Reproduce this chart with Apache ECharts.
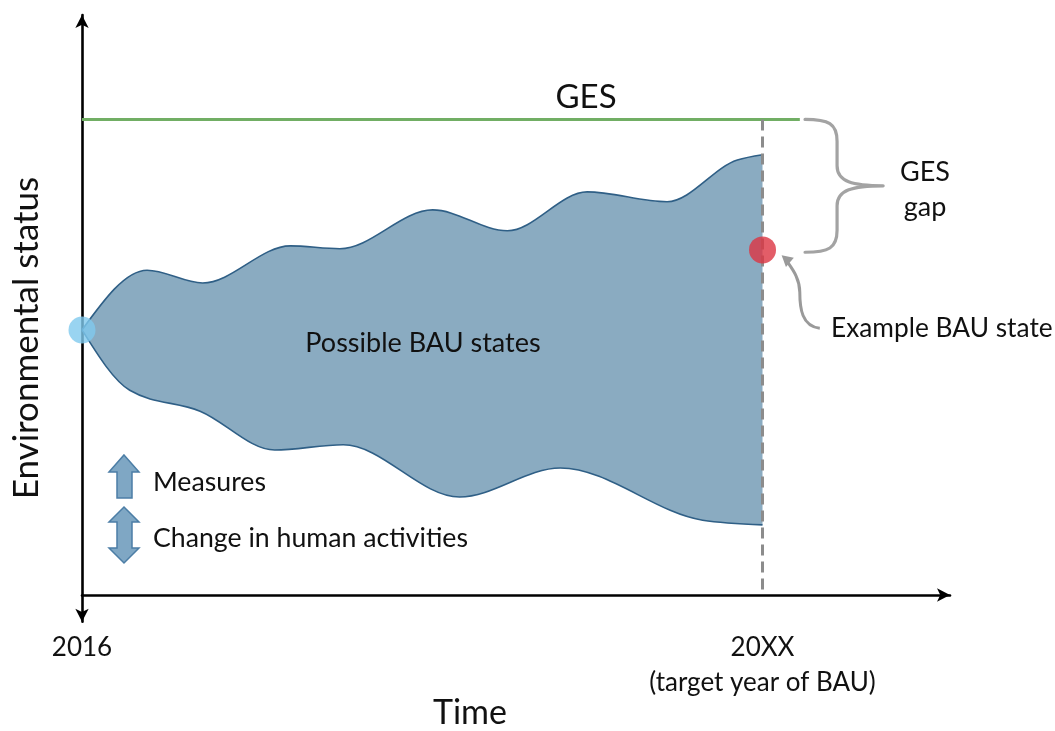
<!DOCTYPE html>
<html>
<head>
<meta charset="utf-8">
<script src="https://cdn.jsdelivr.net/npm/echarts@6/dist/echarts.min.js"></script>
<style>html,body{margin:0;padding:0;background:#fff;}#chart{width:1055px;height:731px;}</style>
</head>
<body>
<div id="chart"></div>
<script>
// ---- data (abstract units: time 0..100, status 0..100) ----
const upperTime = [0, 7.5, 13.9, 24.0, 29.7, 40.4, 49.0, 58.2, 67.4, 75.5, 78.4];
const upperBAU  = [45.7, 56.0, 53.8, 60.2, 59.7, 66.4, 62.8, 69.5, 67.8, 75.0, 75.9];
const lowerTime = [0, 5.5, 13.6, 22.2, 30.1, 43.5, 55.1, 71.5, 78.4];
const lowerBAU  = [45.7, 35.3, 31.7, 25.0, 25.9, 16.9, 21.9, 12.9, 12.1];
const gesLevel = 82;
const gesLineEnd = 82.7;
const startYear = 0;
const targetYear = 78.4;
const startState = 45.7;
const exampleState = 59.5;
const braceX = [83.3, 92.3];
const braceY = [gesLevel, 59.1];
const calloutFrom = [85.0, 46.0];
const calloutTo = [80.6, 58.6];
const tickLabels = ['2016', '20XX\n(target year of BAU)'];

const FONT = 'Lato';
const chart = echarts.init(document.getElementById('chart'));

// monotone-x cubic (Steffen) through pixel points with increasing x; returns bezier segments
function monoSegs(pts) {
  const n = pts.length;
  const m = new Array(n);
  const sign = v => (v > 0 ? 1 : v < 0 ? -1 : 0);
  for (let i = 1; i < n - 1; i++) {
    const h0 = pts[i][0] - pts[i - 1][0], h1 = pts[i + 1][0] - pts[i][0];
    const s0 = (pts[i][1] - pts[i - 1][1]) / h0, s1 = (pts[i + 1][1] - pts[i][1]) / h1;
    const p = (s0 * h1 + s1 * h0) / (h0 + h1);
    m[i] = (sign(s0) + sign(s1)) * Math.min(Math.abs(s0), Math.abs(s1), 0.5 * Math.abs(p)) || 0;
  }
  const hA = pts[1][0] - pts[0][0], hB = pts[n - 1][0] - pts[n - 2][0];
  m[0] = (3 * (pts[1][1] - pts[0][1]) / hA - m[1]) / 2;
  m[n - 1] = (3 * (pts[n - 1][1] - pts[n - 2][1]) / hB - m[n - 2]) / 2;
  const segs = [];
  for (let i = 0; i < n - 1; i++) {
    const h = (pts[i + 1][0] - pts[i][0]) / 3;
    segs.push({
      a: pts[i],
      c1: [pts[i][0] + h, pts[i][1] + m[i] * h],
      c2: [pts[i + 1][0] - h, pts[i + 1][1] - m[i + 1] * h],
      b: pts[i + 1]
    });
  }
  return segs;
}
const segPath = segs => segs.map(s => ['C', s.c1[0], s.c1[1], s.c2[0], s.c2[1], s.b[0], s.b[1]].join(' ')).join(' ');
const segPathRev = segs => segs.slice().reverse().map(s => ['C', s.c2[0], s.c2[1], s.c1[0], s.c1[1], s.a[0], s.a[1]].join(' ')).join(' ');

function bandRender(params, api) {
  const up = upperTime.map((t, i) => api.coord([t, upperBAU[i]]));
  const lo = lowerTime.map((t, i) => api.coord([t, lowerBAU[i]]));
  const su = monoSegs(up), sl = monoSegs(lo);
  const last = lo[lo.length - 1];
  const fillPath = ['M', up[0][0], up[0][1], segPath(su), 'L', last[0], last[1], segPathRev(sl), 'Z'].join(' ');
  const upPath = ['M', up[0][0], up[0][1], segPath(su)].join(' ');
  const loPath = ['M', lo[0][0], lo[0][1], segPath(sl)].join(' ');
  return {
    type: 'group',
    children: [
      { type: 'path', shape: { pathData: fillPath }, style: { fill: '#8aabc1', stroke: null } },
      { type: 'path', shape: { pathData: upPath }, style: { fill: null, stroke: '#2f5f86', lineWidth: 1.6 } },
      { type: 'path', shape: { pathData: loPath }, style: { fill: null, stroke: '#2f5f86', lineWidth: 1.6 } }
    ]
  };
}

function braceRender(params, api) {
  const x0 = api.value(0), x1 = api.value(1), yT = api.value(2), yB = api.value(3);
  const pT = api.coord([x0, yT]);
  const pB = api.coord([x0, yB]);
  const tip = api.coord([x1, (yT + yB) / 2]);
  const W = tip[0] - pT[0];
  const xm = pT[0] + 0.41 * W;
  const ym = tip[1];
  const d = [
    'M', pT[0], pT[1],
    'C', pT[0] + 0.3 * W, pT[1], xm, pT[1] + 4, xm, pT[1] + 22,
    'L', xm, ym - 20,
    'C', xm, ym - 4, xm + 0.2 * W, ym, tip[0], ym,
    'M', tip[0], ym,
    'C', xm + 0.2 * W, ym, xm, ym + 4, xm, ym + 20,
    'L', xm, pB[1] - 22,
    'C', xm, pB[1] - 4, pT[0] + 0.3 * W, pB[1], pB[0], pB[1]
  ].join(' ');
  return {
    type: 'path',
    shape: { pathData: d },
    style: { stroke: '#a3a3a3', fill: null, lineWidth: 3.2, lineCap: 'round' }
  };
}

function calloutRender(params, api) {
  const s = api.coord([api.value(0), api.value(1)]);
  const e = api.coord([api.value(2), api.value(3)]);
  const c4 = [e[0] + 8, e[1] + 7];
  const d = [
    'M', s[0], s[1],
    'C', s[0] - 18, s[1] - 2, s[0] - 20, s[1] - 20, s[0] - 20, s[1] - 36,
    'C', s[0] - 20, s[1] - 52, c4[0], c4[1] + 4, e[0] + 4, e[1] + 4
  ].join(' ');
  const ang = Math.atan2(e[1] - c4[1], e[0] - c4[0]);
  const L = 11, Wd = 6;
  const bx = e[0] - L * Math.cos(ang), by = e[1] - L * Math.sin(ang);
  const px = -Math.sin(ang) * Wd, py = Math.cos(ang) * Wd;
  return {
    type: 'group',
    children: [
      { type: 'path', shape: { pathData: d }, style: { stroke: '#9a9a9a', fill: null, lineWidth: 3 } },
      { type: 'polygon', shape: { points: [[e[0], e[1]], [bx + px, by + py], [bx - px, by - py]] }, style: { fill: '#9a9a9a' } }
    ]
  };
}

const txt = (text, x, y, size, align, extra) => Object.assign({
  type: 'text', x: x, y: y, silent: true, z: 10,
  style: { text: text, font: size + 'px ' + FONT, fill: '#111', textAlign: align || 'center', textVerticalAlign: 'middle' }
}, extra || {});

const option = {
  animation: false,
  backgroundColor: '#ffffff',
  grid: { left: 82, right: 105, top: 15, bottom: 109.3 },
  xAxis: {
    type: 'value', min: 0, max: 100,
    splitLine: { show: false },
    axisTick: { show: false },
    axisLine: { onZero: true, lineStyle: { color: '#000', width: 2.6 }, symbol: ['none', 'arrow'], symbolSize: [10, 13] },
    axisLabel: {
      customValues: [startYear, targetYear],
      formatter: v => (v === startYear ? tickLabels[0] : tickLabels[1]),
      margin: 8, fontFamily: FONT, fontSize: 26, color: '#111', lineHeight: 35, verticalAlign: 'top'
    }
  },
  yAxis: {
    type: 'value', min: -4.6, max: 100,
    splitLine: { show: false },
    axisTick: { show: false },
    axisLabel: { show: false },
    axisLine: { show: true, onZero: false, lineStyle: { color: '#000', width: 2.6 }, symbol: ['arrow', 'arrow'], symbolSize: [10, 13] }
  },
  series: [
    {
      name: 'Possible BAU states', type: 'custom', renderItem: bandRender, clip: false, z: 2,
      data: [[upperTime[0], upperBAU[0]]]
    },
    {
      name: 'GES', type: 'line', symbol: 'none',
      data: [[startYear, gesLevel], [gesLineEnd, gesLevel]],
      lineStyle: { color: '#71ae64', width: 3 }, z: 3
    },
    {
      name: 'target', type: 'line', symbol: 'none',
      data: [[targetYear, gesLevel], [targetYear, 0]],
      lineStyle: { color: '#8c8c8c', width: 3, type: [11, 6] }, z: 4
    },
    {
      name: 'dots', type: 'scatter', symbolSize: 27, clip: false, z: 5,
      data: [
        { value: [startYear, startState], itemStyle: { color: '#80c9ee' } },
        { value: [targetYear, exampleState], itemStyle: { color: '#dc3442' } }
      ]
    },
    {
      name: 'brace', type: 'custom', renderItem: braceRender, clip: false, z: 5,
      data: [[braceX[0], braceX[1], braceY[0], braceY[1]]]
    },
    {
      name: 'callout', type: 'custom', renderItem: calloutRender, clip: false, z: 5,
      data: [[calloutFrom[0], calloutFrom[1], calloutTo[0], calloutTo[1]]]
    }
  ],
  graphic: [
    txt('GES', 586, 97, 33),
    txt('GES', 925, 172, 27),
    txt('gap', 925, 207, 27),
    txt('Example BAU state', 831, 329, 26.3, 'left'),
    txt('Possible BAU states', 423, 343, 27),
    txt('Measures', 153, 482, 26.7, 'left'),
    txt('Change in human activities', 153, 538, 26.7, 'left'),
    txt('Time', 470, 713, 34),
    txt('Environmental status', 27, 338, 35, 'center', { rotation: Math.PI / 2 }),
    { type: 'polygon', silent: true, z: 10, shape: { points: [[124, 455], [139, 472], [132, 472], [132, 498], [117, 498], [117, 472], [109, 472]] },
      style: { fill: '#7fa7c4', stroke: '#4c7ea6', lineWidth: 1.5 } },
    { type: 'polygon', silent: true, z: 10, shape: { points: [[124, 507], [139, 522], [132, 522], [132, 548], [139, 548], [124, 563], [109, 548], [117, 548], [117, 522], [109, 522]] },
      style: { fill: '#7fa7c4', stroke: '#4c7ea6', lineWidth: 1.5 } }
  ]
};
chart.setOption(option);
</script>
</body>
</html>
